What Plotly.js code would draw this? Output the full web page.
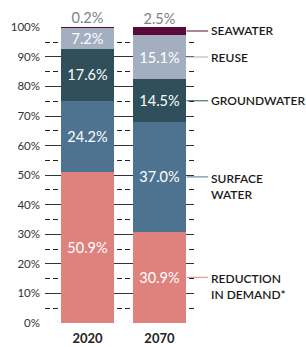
<!DOCTYPE html>
<html><head><meta charset="utf-8">
<script src="https://cdn.plot.ly/plotly-3.0.1.min.js"></script>
<style>html,body{margin:0;padding:0;background:#fff}#chart{width:306px;height:347px}</style>
</head><body><div id="chart"></div>
<script>
const years = ['2020', '2070'];
const sources = ['REDUCTION<br>IN DEMAND*', 'SURFACE<br>WATER', 'GROUNDWATER', 'REUSE', 'SEAWATER'];
const reduction = [50.9, 30.9];
const surface = [24.2, 37.0];
const groundwater = [17.6, 14.5];
const reuse = [7.2, 15.1];
const seawater = [0.2, 2.5];
const colors = ['#DF827E', '#4E7391', '#2F4F5A', '#A3AFC0', '#5A0A36'];

const series = [reduction, surface, groundwater, reuse, seawater];
const FONT = 'Lato, "Open Sans", sans-serif';

const traces = series.map((vals, i) => ({
  type: 'bar', x: years, y: vals, marker: {color: colors[i], line: {width: 0}},
  text: i === 4 ? vals.map(() => '') : vals.map(v => v.toFixed(1) + '%'),
  textposition: 'inside', insidetextanchor: 'middle', constraintext: 'none',
  insidetextfont: {color: '#ffffff', size: 14.5, family: FONT},
  hoverinfo: 'skip', showlegend: false, cliponaxis: false
}));

const totals = years.map((_, j) => series.reduce((s, a) => s + a[j], 0));
traces.push({
  type: 'scatter', mode: 'text', x: years, y: totals,
  text: seawater.map(v => v.toFixed(1) + '%'), textposition: 'top center',
  textfont: {color: '#808080', size: 14.5, family: FONT}, showlegend: false, hoverinfo: 'skip', cliponaxis: false
});

const shapes = [];
const annotations = [];
let cum = 0;
series.forEach((vals, i) => {
  const mid = cum + vals[1] / 2; cum += vals[1];
  const twoLine = sources[i].includes('<br>');
  shapes.push({type: 'line', xref: 'paper', yref: 'y', x0: 0.95, x1: 1.095, y0: mid, y1: mid,
    line: {color: colors[i], width: 1}});
  annotations.push({xref: 'paper', yref: 'y', x: 1.10, y: mid, xanchor: 'left',
    yanchor: twoLine ? 'top' : 'middle', yshift: twoLine ? 8 : 0, align: 'left',
    text: sources[i], showarrow: false, font: {size: 12, color: '#1a1a1a', family: FONT, weight: 600}});
});

const layout = {
  width: 306, height: 347, margin: {l: 45, r: 112, t: 27, b: 24},
  paper_bgcolor: '#fff', plot_bgcolor: '#fff', barmode: 'stack', bargap: 0.264,
  font: {family: FONT},
  xaxis: {type: 'category', range: [-0.59, 1.48], showgrid: false, zeroline: false, showline: false,
    ticks: '', ticklabelstandoff: 6, tickfont: {size: 13, color: '#222', family: FONT, weight: 'bold'}, fixedrange: true},
  yaxis: {range: [0, 100.1], dtick: 10, tick0: 0, ticksuffix: '%', showgrid: true, gridcolor: '#333', gridwidth: 1,
    minor: {dtick: 5, showgrid: true, gridcolor: '#222', griddash: '5px,3px', gridwidth: 1},
    zeroline: false, showline: false, ticks: '', ticklabelstandoff: 4,
    tickfont: {size: 11.5, color: '#333', family: FONT}, fixedrange: true},
  shapes: shapes, annotations: annotations
};

Plotly.newPlot('chart', traces, layout, {displayModeBar: false, staticPlot: true});
</script></body></html>
